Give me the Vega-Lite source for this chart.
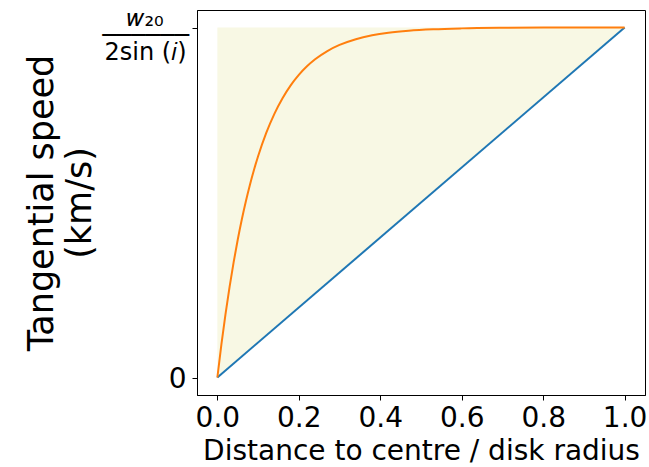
{
  "$schema": "https://vega.github.io/schema/vega-lite/v6.json",
  "width": 448,
  "height": 385,
  "autosize": {"type": "none"},
  "padding": {"left": 197, "top": 10, "right": 4, "bottom": 72},
  "background": "white",
  "config": {
    "font": "DejaVu Sans",
    "view": {"stroke": "black", "strokeWidth": 1},
    "axis": {
      "grid": false,
      "domainColor": "black",
      "tickColor": "black",
      "labelColor": "black",
      "titleColor": "black",
      "titleFontWeight": "normal",
      "labelFont": "DejaVu Sans",
      "titleFont": "DejaVu Sans",
      "tickSize": 5,
      "tickWidth": 1
    }
  },
  "datasets": {
    "band": [
      {"r": 0, "v": 1, "v2": 0},
      {"r": 1, "v": 1, "v2": 1}
    ],
    "solid": [
      {"r": 0, "v": 0},
      {"r": 1, "v": 1}
    ],
    "rotating": [
      {"r": 0, "v": 0},
      {"r": 0.01, "v": 0.0952},
      {"r": 0.02, "v": 0.1813},
      {"r": 0.03, "v": 0.2592},
      {"r": 0.04, "v": 0.3297},
      {"r": 0.05, "v": 0.3935},
      {"r": 0.06, "v": 0.4512},
      {"r": 0.07, "v": 0.5034},
      {"r": 0.08, "v": 0.5507},
      {"r": 0.09, "v": 0.5934},
      {"r": 0.1, "v": 0.6321},
      {"r": 0.12, "v": 0.6988},
      {"r": 0.14, "v": 0.7534},
      {"r": 0.16, "v": 0.7981},
      {"r": 0.18, "v": 0.8347},
      {"r": 0.2, "v": 0.8647},
      {"r": 0.22, "v": 0.8892},
      {"r": 0.24, "v": 0.9093},
      {"r": 0.27, "v": 0.9328},
      {"r": 0.3, "v": 0.9502},
      {"r": 0.34, "v": 0.9666},
      {"r": 0.38, "v": 0.9776},
      {"r": 0.42, "v": 0.985},
      {"r": 0.47, "v": 0.9909},
      {"r": 0.53, "v": 0.995},
      {"r": 0.6, "v": 0.9975},
      {"r": 0.7, "v": 0.9991},
      {"r": 0.8, "v": 0.9997},
      {"r": 0.9, "v": 0.9999},
      {"r": 1.0, "v": 1.0}
    ]
  },
  "encoding": {
    "x": {
      "field": "r",
      "type": "quantitative",
      "scale": {"domain": [-0.05, 1.05], "nice": false, "zero": false},
      "axis": {
        "values": [0, 0.2, 0.4, 0.6, 0.8, 1.0],
        "format": ".1f",
        "labelFontSize": 28,
        "labelPadding": 4,
        "title": "Distance to centre / disk radius",
        "titleFontSize": 28,
        "titlePadding": 5
      }
    },
    "y": {
      "field": "v",
      "type": "quantitative",
      "scale": {"domain": [-0.05, 1.05], "nice": false, "zero": false},
      "axis": {
        "values": [0, 1],
        "labelExpr": "datum.value == 0 ? '0' : ['𝑤₂₀', '──────', '2sin (𝑖)']",
        "labelFontSize": {"condition": {"test": "datum.value == 1", "value": 24}, "value": 28},
        "labelLineHeight": 17,
        "labelAlign": {"condition": {"test": "datum.value == 1", "value": "center"}, "value": "right"},
        "labelOffset": {"condition": {"test": "datum.value == 1", "value": -9}, "value": 2},
        "labelPadding": {"condition": {"test": "datum.value == 1", "value": 47}, "value": 6},
        "title": ["Tangential speed", "(km/s)"],
        "titleFontSize": 35,
        "titleLineHeight": 38,
        "titlePadding": 4
      }
    }
  },
  "layer": [
    {
      "data": {"name": "band"},
      "mark": {"type": "area", "color": "#f8f8e4", "opacity": 1},
      "encoding": {"y2": {"field": "v2"}}
    },
    {
      "data": {"name": "solid"},
      "mark": {"type": "line", "color": "#1f77b4", "strokeWidth": 2}
    },
    {
      "data": {"name": "rotating"},
      "mark": {"type": "line", "color": "#ff7f0e", "strokeWidth": 2, "interpolate": "monotone"}
    }
  ]
}
